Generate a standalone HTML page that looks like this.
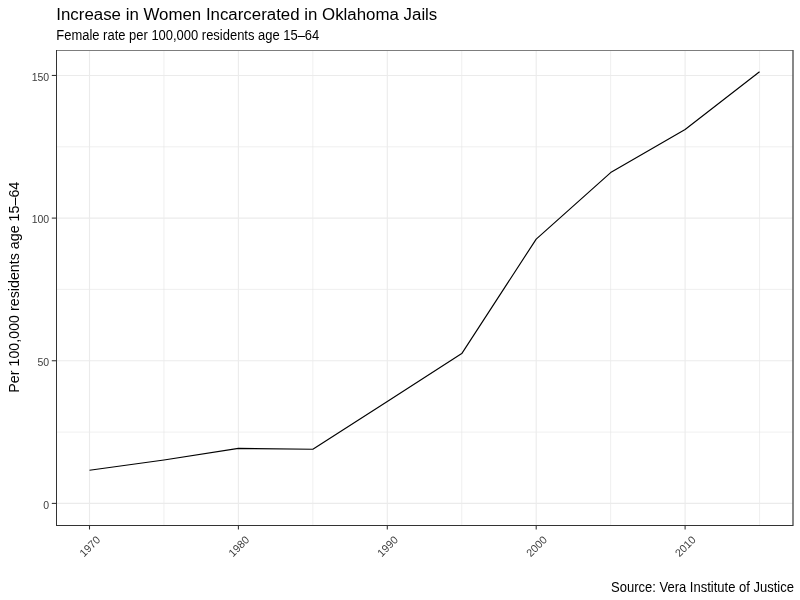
<!DOCTYPE html>
<html>
<head>
<meta charset="utf-8">
<style>
html,body{margin:0;padding:0;background:#fff;}
body{width:800px;height:600px;overflow:hidden;}
svg{display:block;}
text{font-family:"Liberation Sans",sans-serif;}
</style>
</head>
<body>
<svg width="800" height="600" viewBox="0 0 800 600">
<rect x="0" y="0" width="800" height="600" fill="#ffffff"/>
<!-- minor grid -->
<g stroke="#E4E4E4" stroke-width="0.6" fill="none">
<line x1="56.5" x2="793" y1="432.1" y2="432.1"/>
<line x1="56.5" x2="793" y1="289.4" y2="289.4"/>
<line x1="56.5" x2="793" y1="146.8" y2="146.8"/>
<line y1="50" y2="525" x1="163.95" x2="163.95"/>
<line y1="50" y2="525" x1="312.85" x2="312.85"/>
<line y1="50" y2="525" x1="461.75" x2="461.75"/>
<line y1="50" y2="525" x1="610.65" x2="610.65"/>
<line y1="50" y2="525" x1="759.55" x2="759.55"/>
</g>
<!-- major grid -->
<g stroke="#EBEBEB" stroke-width="1.1" fill="none">
<line x1="56.5" x2="793" y1="503.4" y2="503.4"/>
<line x1="56.5" x2="793" y1="360.75" y2="360.75"/>
<line x1="56.5" x2="793" y1="218.1" y2="218.1"/>
<line x1="56.5" x2="793" y1="75.45" y2="75.45"/>
<line y1="50" y2="525" x1="89.5" x2="89.5"/>
<line y1="50" y2="525" x1="238.4" x2="238.4"/>
<line y1="50" y2="525" x1="387.3" x2="387.3"/>
<line y1="50" y2="525" x1="536.2" x2="536.2"/>
<line y1="50" y2="525" x1="685.1" x2="685.1"/>
</g>
<!-- data line -->
<polyline fill="none" stroke="#000" stroke-width="1.15" stroke-linejoin="round" stroke-linecap="butt"
 points="89.5,470.3 163.95,460.0 238.4,448.4 312.85,449.3 387.3,401.4 461.75,353.6 536.2,239.1 610.65,172.6 685.1,129.5 759.55,71.8"/>
<!-- panel border -->
<g fill="none" stroke-width="1">
<line x1="56" x2="793" y1="50.5" y2="50.5" stroke="#7d7d7d"/>
<line x1="793" x2="793" y1="50" y2="526" stroke="#555555" stroke-width="1.4"/>
<line x1="56.5" x2="56.5" y1="50" y2="526" stroke="#333333"/>
<line x1="56" x2="793" y1="525.5" y2="525.5" stroke="#333333"/>
</g>
<!-- y ticks -->
<g stroke="#333333" stroke-width="1.07">
<line x1="51.8" x2="56.5" y1="503.4" y2="503.4"/>
<line x1="51.8" x2="56.5" y1="360.75" y2="360.75"/>
<line x1="51.8" x2="56.5" y1="218.1" y2="218.1"/>
<line x1="51.8" x2="56.5" y1="75.45" y2="75.45"/>
<line y1="525" y2="529.5" x1="89.5" x2="89.5"/>
<line y1="525" y2="529.5" x1="238.4" x2="238.4"/>
<line y1="525" y2="529.5" x1="387.3" x2="387.3"/>
<line y1="525" y2="529.5" x1="536.2" x2="536.2"/>
<line y1="525" y2="529.5" x1="685.1" x2="685.1"/>
</g>
<!-- y tick labels -->
<g fill="#3d3d3d" font-size="10.5" text-anchor="end">
<text x="49.2" y="508.6">0</text>
<text x="49.2" y="366">50</text>
<text x="49.2" y="223.3">100</text>
<text x="49.2" y="80.7">150</text>
</g>
<!-- x tick labels -->
<g fill="#3d3d3d" font-size="10.8" text-anchor="end">
<text transform="translate(101.0,540.5) rotate(-45)">1970</text>
<text transform="translate(249.9,540.5) rotate(-45)">1980</text>
<text transform="translate(398.8,540.5) rotate(-45)">1990</text>
<text transform="translate(547.7,540.5) rotate(-45)">2000</text>
<text transform="translate(696.6,540.5) rotate(-45)">2010</text>
</g>
<!-- y axis title -->
<text transform="translate(18.8,287.2) rotate(-90)" text-anchor="middle" font-size="15" textLength="211" lengthAdjust="spacingAndGlyphs" fill="#000">Per 100,000 residents age 15–64</text>
<!-- titles -->
<text x="56.3" y="20.3" font-size="17.3" textLength="381" lengthAdjust="spacingAndGlyphs" fill="#000">Increase in Women Incarcerated in Oklahoma Jails</text>
<text x="56.3" y="39.5" font-size="13.8" textLength="263" lengthAdjust="spacingAndGlyphs" fill="#000">Female rate per 100,000 residents age 15–64</text>
<text x="611" y="592.3" font-size="14.2" textLength="183" lengthAdjust="spacingAndGlyphs" fill="#000">Source: Vera Institute of Justice</text>
</svg>
</body>
</html>
